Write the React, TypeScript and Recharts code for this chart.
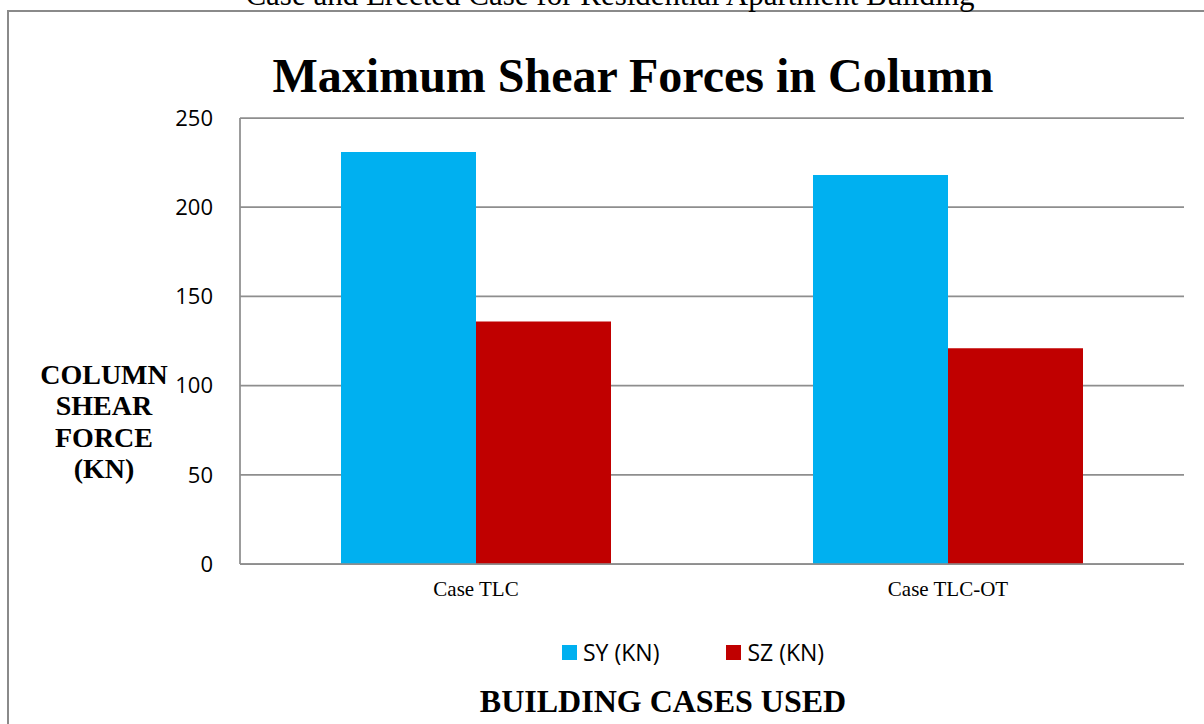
import React from "react";
import { BarChart, Bar, XAxis, YAxis, CartesianGrid, Legend } from "recharts";

const categories = ["Case TLC", "Case TLC-OT"];
const syValues = [231, 218];
const szValues = [136, 121];
const yTicks = [0, 50, 100, 150, 200, 250];
const seriesNames = ["SY (KN)", "SZ (KN)"];
const seriesColors = ["#00B0F0", "#C00000"];

const data = categories.map((c, i) => ({ name: c, sy: syValues[i], sz: szValues[i] }));

const serif = "'Liberation Serif', 'Times New Roman', serif";
const sans = "'Open Sans', 'Noto Sans', sans-serif";

const LegendContent = (props: any) => {
  const items = props.payload || [];
  return (
    <div style={{ display: "flex", alignItems: "center", height: 30 }}>
      {items.map((it: any, i: number) => (
        <div key={i} style={{ display: "flex", alignItems: "center", marginRight: 67 }}>
          <span style={{ display: "inline-block", width: 15, height: 15, background: it.color, marginRight: 6 }} />
          <span style={{ fontFamily: sans, fontSize: 23, color: "#000", lineHeight: "30px" }}>{it.value}</span>
        </div>
      ))}
    </div>
  );
};

export default function App() {
  return (
    <div style={{ position: "absolute", left: 0, top: 0, width: 1204, height: 724, background: "#fff", overflow: "hidden" }}>
      <div style={{ position: "absolute", left: 7, top: 10, width: 1300, height: 800, borderLeft: "2px solid #8a8a8a", borderTop: "2px solid #8a8a8a" }} />
      <BarChart
        width={1204}
        height={724}
        data={data}
        margin={{ top: 118, right: 20, bottom: 0, left: 0 }}
        barGap={0}
        barSize={135}
      >
        <CartesianGrid vertical={false} stroke="#8e8e8e" strokeWidth={1.75} />
        <XAxis
          dataKey="name"
          height={160}
          axisLine={{ stroke: "#8e8e8e", strokeWidth: 1.75 }}
          tickLine={false}
          tickSize={0}
          tickMargin={17}
          tick={{ fontFamily: serif, fontSize: 21, fill: "#000" }}
        />
        <YAxis
          width={240}
          domain={[0, 250]}
          ticks={yTicks}
          axisLine={{ stroke: "#8e8e8e", strokeWidth: 1.75 }}
          tickLine={false}
          tickSize={0}
          tickMargin={27}
          tick={{ fontFamily: sans, fontSize: 22, fill: "#000" }}
        />
        <Legend
          layout="horizontal"
          verticalAlign="middle"
          align="center"
          content={LegendContent}
          wrapperStyle={{ left: 562, top: 637, width: 500, height: 30 }}
        />
        <Bar dataKey="sy" name={seriesNames[0]} fill={seriesColors[0]} isAnimationActive={false} />
        <Bar dataKey="sz" name={seriesNames[1]} fill={seriesColors[1]} isAnimationActive={false} />
      </BarChart>
      <svg width={1204} height={724} style={{ position: "absolute", left: 0, top: 0, pointerEvents: "none" }}>
        <text x={610} y={5} textAnchor="middle" fontFamily={serif} fontSize={31} fill="#000">
          Case and Erected Case for Residential Apartment Building
        </text>
        <text x={633} y={92} textAnchor="middle" fontFamily={serif} fontSize={48} fontWeight="bold" fill="#000">
          Maximum Shear Forces in Column
        </text>
        <g fontFamily={serif} fontSize={28} fontWeight="bold" fill="#000" textAnchor="middle">
          <text x={104} y={384}>COLUMN</text>
          <text x={104} y={415}>SHEAR</text>
          <text x={104} y={447}>FORCE</text>
          <text x={104} y={478}>(KN)</text>
        </g>
        <text x={663} y={712} textAnchor="middle" fontFamily={serif} fontSize={32} fontWeight="bold" fill="#000">
          BUILDING CASES USED
        </text>
      </svg>
    </div>
  );
}
